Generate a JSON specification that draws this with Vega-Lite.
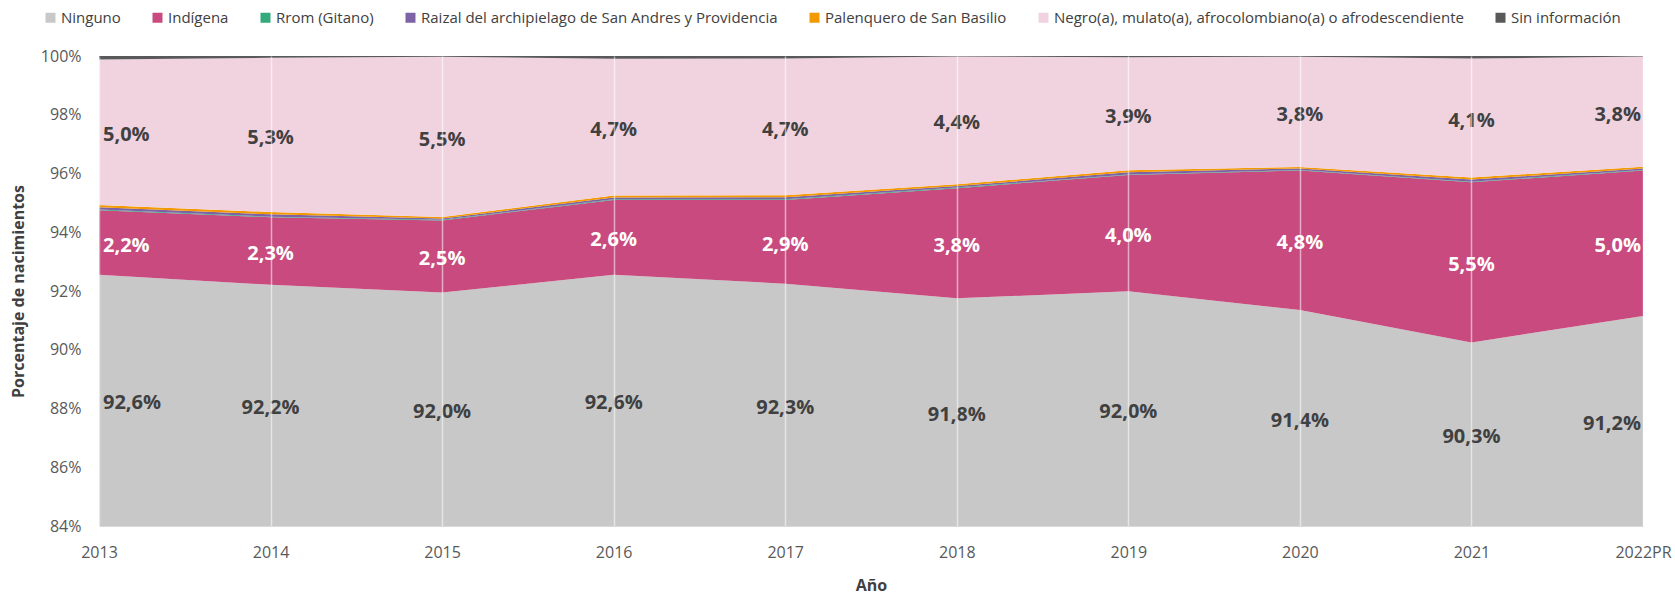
{
  "$schema": "https://vega.github.io/schema/vega-lite/v6.json",
  "width": 1544,
  "height": 470,
  "autosize": {"type": "none"},
  "padding": {"left": 99, "top": 56, "right": 32, "bottom": 68},
  "background": "white",
  "config": {
    "font": "Open Sans",
    "view": {"stroke": null},
    "axis": {"labelFont": "Open Sans", "titleFont": "Open Sans"},
    "legend": {"labelFont": "Open Sans"}
  },
  "data": {
    "values": [
      {"year": "2013", "cat": "Ninguno", "pct": 92.551},
      {"year": "2013", "cat": "Indígena", "pct": 2.20},
      {"year": "2013", "cat": "Rrom (Gitano)", "pct": 0.02},
      {"year": "2013", "cat": "Raizal del archipielago de San Andres y Providencia", "pct": 0.08},
      {"year": "2013", "cat": "Palenquero de San Basilio", "pct": 0.08},
      {"year": "2013", "cat": "Negro(a), mulato(a), afrocolombiano(a) o afrodescendiente", "pct": 4.951},
      {"year": "2013", "cat": "Sin información", "pct": 0.15},
      {"year": "2014", "cat": "Ninguno", "pct": 92.21},
      {"year": "2014", "cat": "Indígena", "pct": 2.30},
      {"year": "2014", "cat": "Rrom (Gitano)", "pct": 0.02},
      {"year": "2014", "cat": "Raizal del archipielago de San Andres y Providencia", "pct": 0.08},
      {"year": "2014", "cat": "Palenquero de San Basilio", "pct": 0.08},
      {"year": "2014", "cat": "Negro(a), mulato(a), afrocolombiano(a) o afrodescendiente", "pct": 5.251},
      {"year": "2014", "cat": "Sin información", "pct": 0.08},
      {"year": "2015", "cat": "Ninguno", "pct": 91.951},
      {"year": "2015", "cat": "Indígena", "pct": 2.451},
      {"year": "2015", "cat": "Rrom (Gitano)", "pct": 0.02},
      {"year": "2015", "cat": "Raizal del archipielago de San Andres y Providencia", "pct": 0.05},
      {"year": "2015", "cat": "Palenquero de San Basilio", "pct": 0.05},
      {"year": "2015", "cat": "Negro(a), mulato(a), afrocolombiano(a) o afrodescendiente", "pct": 5.451},
      {"year": "2015", "cat": "Sin información", "pct": 0.06},
      {"year": "2016", "cat": "Ninguno", "pct": 92.551},
      {"year": "2016", "cat": "Indígena", "pct": 2.551},
      {"year": "2016", "cat": "Rrom (Gitano)", "pct": 0.02},
      {"year": "2016", "cat": "Raizal del archipielago de San Andres y Providencia", "pct": 0.06},
      {"year": "2016", "cat": "Palenquero de San Basilio", "pct": 0.07},
      {"year": "2016", "cat": "Negro(a), mulato(a), afrocolombiano(a) o afrodescendiente", "pct": 4.651},
      {"year": "2016", "cat": "Sin información", "pct": 0.10},
      {"year": "2017", "cat": "Ninguno", "pct": 92.251},
      {"year": "2017", "cat": "Indígena", "pct": 2.851},
      {"year": "2017", "cat": "Rrom (Gitano)", "pct": 0.02},
      {"year": "2017", "cat": "Raizal del archipielago de San Andres y Providencia", "pct": 0.07},
      {"year": "2017", "cat": "Palenquero de San Basilio", "pct": 0.07},
      {"year": "2017", "cat": "Negro(a), mulato(a), afrocolombiano(a) o afrodescendiente", "pct": 4.651},
      {"year": "2017", "cat": "Sin información", "pct": 0.09},
      {"year": "2018", "cat": "Ninguno", "pct": 91.751},
      {"year": "2018", "cat": "Indígena", "pct": 3.751},
      {"year": "2018", "cat": "Rrom (Gitano)", "pct": 0.02},
      {"year": "2018", "cat": "Raizal del archipielago de San Andres y Providencia", "pct": 0.05},
      {"year": "2018", "cat": "Palenquero de San Basilio", "pct": 0.06},
      {"year": "2018", "cat": "Negro(a), mulato(a), afrocolombiano(a) o afrodescendiente", "pct": 4.351},
      {"year": "2018", "cat": "Sin información", "pct": 0.08},
      {"year": "2019", "cat": "Ninguno", "pct": 91.99},
      {"year": "2019", "cat": "Indígena", "pct": 3.96},
      {"year": "2019", "cat": "Rrom (Gitano)", "pct": 0.02},
      {"year": "2019", "cat": "Raizal del archipielago de San Andres y Providencia", "pct": 0.07},
      {"year": "2019", "cat": "Palenquero de San Basilio", "pct": 0.07},
      {"year": "2019", "cat": "Negro(a), mulato(a), afrocolombiano(a) o afrodescendiente", "pct": 3.851},
      {"year": "2019", "cat": "Sin información", "pct": 0.08},
      {"year": "2020", "cat": "Ninguno", "pct": 91.351},
      {"year": "2020", "cat": "Indígena", "pct": 4.751},
      {"year": "2020", "cat": "Rrom (Gitano)", "pct": 0.02},
      {"year": "2020", "cat": "Raizal del archipielago de San Andres y Providencia", "pct": 0.05},
      {"year": "2020", "cat": "Palenquero de San Basilio", "pct": 0.05},
      {"year": "2020", "cat": "Negro(a), mulato(a), afrocolombiano(a) o afrodescendiente", "pct": 3.751},
      {"year": "2020", "cat": "Sin información", "pct": 0.08},
      {"year": "2021", "cat": "Ninguno", "pct": 90.251},
      {"year": "2021", "cat": "Indígena", "pct": 5.451},
      {"year": "2021", "cat": "Rrom (Gitano)", "pct": 0.02},
      {"year": "2021", "cat": "Raizal del archipielago de San Andres y Providencia", "pct": 0.07},
      {"year": "2021", "cat": "Palenquero de San Basilio", "pct": 0.07},
      {"year": "2021", "cat": "Negro(a), mulato(a), afrocolombiano(a) o afrodescendiente", "pct": 4.051},
      {"year": "2021", "cat": "Sin información", "pct": 0.09},
      {"year": "2022PR", "cat": "Ninguno", "pct": 91.151},
      {"year": "2022PR", "cat": "Indígena", "pct": 4.951},
      {"year": "2022PR", "cat": "Rrom (Gitano)", "pct": 0.02},
      {"year": "2022PR", "cat": "Raizal del archipielago de San Andres y Providencia", "pct": 0.05},
      {"year": "2022PR", "cat": "Palenquero de San Basilio", "pct": 0.06},
      {"year": "2022PR", "cat": "Negro(a), mulato(a), afrocolombiano(a) o afrodescendiente", "pct": 3.751},
      {"year": "2022PR", "cat": "Sin información", "pct": 0.08}
    ]
  },
  "transform": [
    {"calculate": "indexof(['Ninguno','Indígena','Rrom (Gitano)','Raizal del archipielago de San Andres y Providencia','Palenquero de San Basilio','Negro(a), mulato(a), afrocolombiano(a) o afrodescendiente','Sin información'], datum.cat)", "as": "ord"},
    {"stack": "pct", "groupby": ["year"], "sort": [{"field": "ord", "order": "ascending"}], "as": ["y0", "y1"]},
    {"calculate": "(max(datum.y0, 84) + datum.y1) / 2", "as": "mid"},
    {"calculate": "replace(format(datum.pct, '.1f'), '.', ',') + '%'", "as": "lbl"}
  ],
  "encoding": {
    "x": {
      "field": "year",
      "type": "ordinal",
      "scale": {"type": "point", "padding": 0},
      "axis": {
        "title": "Año",
        "titleFontSize": 16,
        "titleFontWeight": "bold",
        "titleColor": "#404040",
        "titlePadding": 17,
        "labelAngle": 0,
        "labelFontSize": 16,
        "labelColor": "#595959",
        "labelPadding": 18,
        "ticks": false,
        "domainColor": "#d9d9d9",
        "domainWidth": 1,
        "grid": true,
        "gridColor": "#ffffff",
        "gridOpacity": 0.55,
        "gridWidth": 1.5,
        "zindex": 1
      }
    }
  },
  "layer": [
    {
      "mark": {"type": "area", "clip": true, "interpolate": "linear"},
      "encoding": {
        "y": {
          "field": "y1",
          "type": "quantitative",
          "scale": {"domain": [84, 100], "nice": false, "zero": false},
          "axis": {
            "title": "Porcentaje de nacimientos",
            "titleFontSize": 16,
            "titleFontWeight": "bold",
            "titleColor": "#404040",
            "titlePadding": 14,
            "values": [84, 86, 88, 90, 92, 94, 96, 98, 100],
            "labelExpr": "datum.value + '%'",
            "labelFontSize": 16,
            "labelColor": "#595959",
            "labelPadding": 18,
            "ticks": false,
            "domain": false,
            "grid": false
          }
        },
        "y2": {"field": "y0"},
        "order": {"field": "ord", "type": "quantitative"},
        "color": {
          "field": "cat",
          "type": "nominal",
          "scale": {
            "domain": ["Ninguno", "Indígena", "Rrom (Gitano)", "Raizal del archipielago de San Andres y Providencia", "Palenquero de San Basilio", "Negro(a), mulato(a), afrocolombiano(a) o afrodescendiente", "Sin información"],
            "range": ["#c8c8c8", "#c84a7e", "#34a97c", "#7d62a6", "#f39a00", "#f0d3df", "#595959"]
          },
          "legend": {
            "title": null,
            "orient": "none",
            "direction": "horizontal",
            "columns": 7,
            "legendX": -56,
            "legendY": -46,
            "padding": 0,
            "symbolType": "square",
            "symbolSize": 100,
            "symbolStrokeWidth": 0,
            "labelFontSize": 15,
            "labelLimit": 0,
            "labelColor": "#404040",
            "labelOffset": 3,
            "columnPadding": 29
          }
        }
      }
    },
    {
      "transform": [{"filter": "(datum.ord === 0 || datum.ord === 1 || datum.ord === 5) && datum.year === '2013'"}],
      "mark": {"type": "text", "align": "left", "baseline": "middle", "dx": 4, "dy": 3, "fontSize": 20, "fontWeight": "bold", "font": "Open Sans"},
      "encoding": {
        "y": {"field": "mid", "type": "quantitative"},
        "text": {"field": "lbl"},
        "color": {"condition": {"test": "datum.ord === 1", "value": "#ffffff"}, "value": "#404040"}
      }
    },
    {
      "transform": [{"filter": "(datum.ord === 0 || datum.ord === 1 || datum.ord === 5) && datum.year !== '2013' && datum.year !== '2022PR'"}],
      "mark": {"type": "text", "align": "center", "baseline": "middle", "dy": 3, "fontSize": 20, "fontWeight": "bold", "font": "Open Sans"},
      "encoding": {
        "y": {"field": "mid", "type": "quantitative"},
        "text": {"field": "lbl"},
        "color": {"condition": {"test": "datum.ord === 1", "value": "#ffffff"}, "value": "#404040"}
      }
    },
    {
      "transform": [{"filter": "(datum.ord === 0 || datum.ord === 1 || datum.ord === 5) && datum.year === '2022PR'"}],
      "mark": {"type": "text", "align": "right", "baseline": "middle", "dx": -2, "dy": 3, "fontSize": 20, "fontWeight": "bold", "font": "Open Sans"},
      "encoding": {
        "y": {"field": "mid", "type": "quantitative"},
        "text": {"field": "lbl"},
        "color": {"condition": {"test": "datum.ord === 1", "value": "#ffffff"}, "value": "#404040"}
      }
    }
  ]
}
